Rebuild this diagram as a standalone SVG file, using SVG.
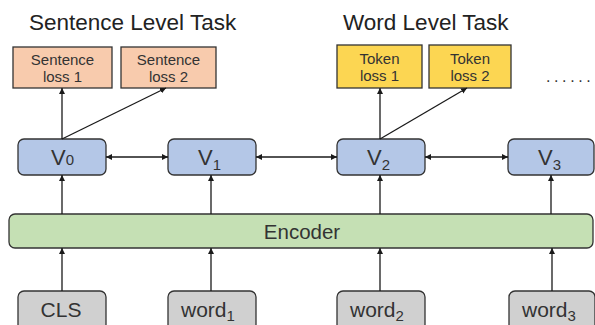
<svg xmlns="http://www.w3.org/2000/svg" width="595" height="325" viewBox="0 0 595 325">
<defs>
<marker id="ah" viewBox="0 0 10 10" refX="10" refY="5" markerWidth="6" markerHeight="6" orient="auto-start-reverse" markerUnits="userSpaceOnUse">
<path d="M0,0 L10,5 L0,10 z" fill="#1a1a1a"/>
</marker>
<style>
.title{font-family:"Liberation Sans",Arial,sans-serif;font-size:22.5px;fill:#222}
.loss{font-family:"Liberation Sans",Arial,sans-serif;font-size:15px;fill:#333;text-anchor:middle}
.v{font-family:"Liberation Sans",Arial,sans-serif;font-size:22px;fill:#333}
.sub{font-size:15px}
.enc{font-family:"Liberation Sans",Arial,sans-serif;font-size:20.5px;fill:#333;text-anchor:middle}
.inp{font-family:"Liberation Sans",Arial,sans-serif;font-size:21px;fill:#333}
.box{stroke:#333;stroke-width:1.3}
.sl{fill:#f8cbad}
.tl{fill:#fcd652}
.vb{fill:#b4c7e7}
.eb{fill:#c5e0b4}
.ib{fill:#d0d0d0}
.c{stroke:#1a1a1a;stroke-width:1.3;fill:none}
</style>
</defs>
<rect width="595" height="325" fill="#ffffff"/>
<text class="title" x="29" y="30">Sentence Level Task</text>
<text class="title" x="343" y="30">Word Level Task</text>
<text x="546" y="82" style="font-family:'Liberation Sans',sans-serif;font-size:16px;fill:#333;letter-spacing:3.6px">......</text>

<g id="sloss1"><rect class="box sl" x="13" y="47" width="99" height="41"/><text class="loss" x="62.5" y="65">Sentence</text><text class="loss" x="62.5" y="82">loss 1</text></g>
<g id="sloss2"><rect class="box sl" x="121" y="47" width="95" height="41"/><text class="loss" x="168.5" y="65">Sentence</text><text class="loss" x="168.5" y="82">loss 2</text></g>
<g id="tloss1"><rect class="box tl" x="337" y="45" width="85" height="43"/><text class="loss" x="379.5" y="64">Token</text><text class="loss" x="379.5" y="81">loss 1</text></g>
<g id="tloss2"><rect class="box tl" x="429" y="45" width="82" height="43"/><text class="loss" x="470" y="64">Token</text><text class="loss" x="470" y="81">loss 2</text></g>

<g id="v0"><rect class="box vb" x="18" y="139" width="88" height="36" rx="6"/><text class="v" x="51" y="165">V<tspan class="sub">0</tspan></text></g>
<g id="v1"><rect class="box vb" x="168" y="139" width="88" height="36" rx="6"/><text class="v" x="198" y="165">V<tspan class="sub" dy="5">1</tspan></text></g>
<g id="v2"><rect class="box vb" x="337" y="139" width="88" height="36" rx="6"/><text class="v" x="367" y="165">V<tspan class="sub" dy="5">2</tspan></text></g>
<g id="v3"><rect class="box vb" x="508" y="139" width="86" height="36" rx="6"/><text class="v" x="538" y="165">V<tspan class="sub" dy="5">3</tspan></text></g>

<g id="encoder"><rect class="box eb" x="9" y="214" width="584" height="34" rx="6"/><text class="enc" x="302" y="239">Encoder</text></g>

<g id="cls"><rect class="box ib" x="18" y="291" width="88" height="42" rx="6"/><text class="inp" x="61" y="317" text-anchor="middle">CLS</text></g>
<g id="word1"><rect class="box ib" x="168" y="291" width="88" height="42" rx="6"/><text class="inp" x="181" y="317">word<tspan class="sub" dy="4">1</tspan></text></g>
<g id="word2"><rect class="box ib" x="337" y="291" width="88" height="42" rx="6"/><text class="inp" x="350" y="317">word<tspan class="sub" dy="4">2</tspan></text></g>
<g id="word3"><rect class="box ib" x="509" y="291" width="86" height="42" rx="6"/><text class="inp" x="522" y="317">word<tspan class="sub" dy="4">3</tspan></text></g>

<g id="connectors">
<line class="c" x1="62" y1="139" x2="62" y2="88" marker-end="url(#ah)"/>
<line class="c" x1="62" y1="139" x2="166" y2="88" marker-end="url(#ah)"/>
<line class="c" x1="380" y1="139" x2="380" y2="88" marker-end="url(#ah)"/>
<line class="c" x1="380" y1="139" x2="467" y2="88" marker-end="url(#ah)"/>
<line class="c" x1="106" y1="157" x2="168" y2="157" marker-start="url(#ah)" marker-end="url(#ah)"/>
<line class="c" x1="256" y1="157" x2="337" y2="157" marker-start="url(#ah)" marker-end="url(#ah)"/>
<line class="c" x1="425" y1="157" x2="508" y2="157" marker-start="url(#ah)" marker-end="url(#ah)"/>
<line class="c" x1="62" y1="214" x2="62" y2="175" marker-end="url(#ah)"/>
<line class="c" x1="211" y1="214" x2="211" y2="175" marker-end="url(#ah)"/>
<line class="c" x1="380" y1="214" x2="380" y2="175" marker-end="url(#ah)"/>
<line class="c" x1="551" y1="214" x2="551" y2="175" marker-end="url(#ah)"/>
<line class="c" x1="62" y1="291" x2="62" y2="248" marker-end="url(#ah)"/>
<line class="c" x1="211" y1="291" x2="211" y2="248" marker-end="url(#ah)"/>
<line class="c" x1="380" y1="291" x2="380" y2="248" marker-end="url(#ah)"/>
<line class="c" x1="552" y1="291" x2="552" y2="248" marker-end="url(#ah)"/>
</g>
</svg>
